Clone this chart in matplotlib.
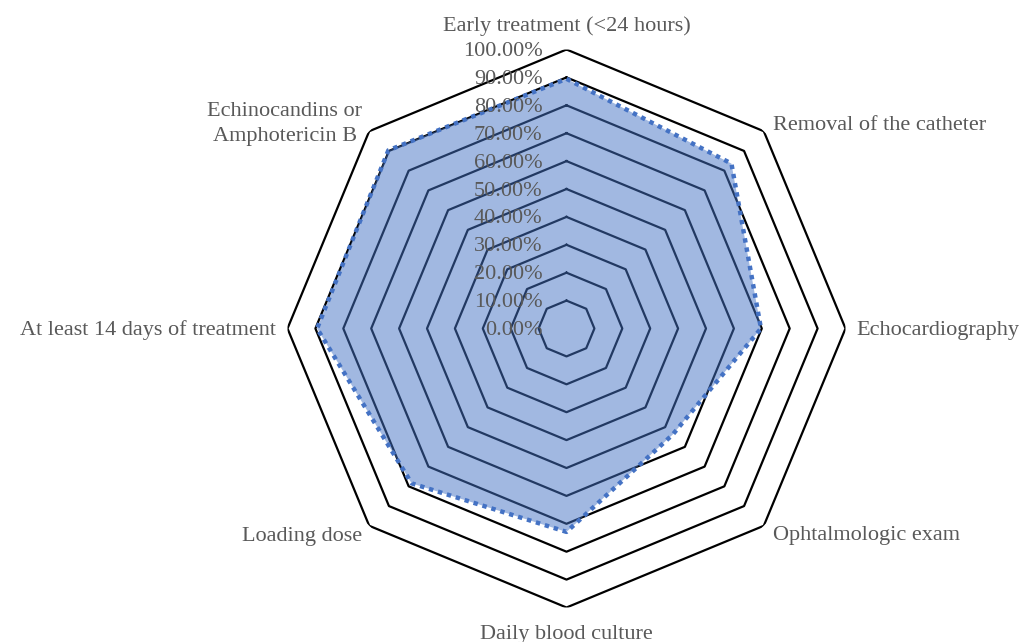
import matplotlib.pyplot as plt
import numpy as np

# categories, clockwise from the top
categories = ['Early treatment (<24 hours)', 'Removal of the catheter', 'Echocardiography',
              'Ophtalmologic exam', 'Daily blood culture', 'Loading dose',
              'At least 14 days of treatment', 'Echinocandins or\nAmphotericin B']
values = [0.895, 0.836, 0.697, 0.538, 0.729, 0.785, 0.894, 0.903]
levels = [0.1, 0.2, 0.3, 0.4, 0.5, 0.6, 0.7, 0.8, 0.9, 1.0]
tick_labels = ['0.00%', '10.00%', '20.00%', '30.00%', '40.00%', '50.00%',
               '60.00%', '70.00%', '80.00%', '90.00%', '100.00%']

plt.rcParams['font.family'] = ['Liberation Serif', 'DejaVu Serif']
txt = '#595959'
fs = 16

fig = plt.figure(figsize=(10.35, 6.42), dpi=100)
# centre of the chart at (566.5, 328.5) px, radius 279 px
ax = fig.add_axes([287.5 / 1035, 34.5 / 642, 558 / 1035, 558 / 642], projection='polar')
ax.set_theta_offset(np.pi / 2)
ax.set_theta_direction(-1)
ax.set_ylim(0, 1)
ax.grid(False)
ax.spines['polar'].set_visible(False)
ax.set_xticks([])
ax.set_yticks([])

n = len(categories)
angles = np.arange(n) * 2 * np.pi / n
closed = np.append(angles, angles[0])

# octagon grid
for lv in levels:
    ax.plot(closed, [lv] * (n + 1), color='black', lw=1.6, zorder=1)

# data polygon
vals = np.append(values, values[0])
ax.fill(closed, vals, color='#4472C4', alpha=0.5, lw=0, zorder=2)
ax.plot(closed, vals, color='#4472C4', lw=3.2, linestyle=(0, (1, 1.1)), zorder=3)

# radial tick labels along the top spoke
for i, t in enumerate(tick_labels):
    ax.annotate(t, xy=(0, i / 10), xytext=(-24, -2), textcoords='offset pixels',
                ha='right', va='center', fontsize=fs, color=txt, zorder=4,
                annotation_clip=False)

# category labels: (dx, dy) pixel offsets from the 100% vertex, alignment
label_pos = [((0, 23), 'center'), ((9, 6), 'left'), ((11, -2), 'left'),
             ((9, -10), 'left'), ((0, -27), 'center'), ((-7, -11), 'right'),
             ((-12, -2), 'right'), ((-7, 7), 'right')]
for ang, lab, (off, ha) in zip(angles, categories, label_pos):
    ax.annotate(lab, xy=(ang, 1.0), xytext=off, textcoords='offset pixels',
                ha=ha, va='center', fontsize=fs, color=txt, multialignment='center',
                linespacing=1.45, annotation_clip=False)

fig.savefig('out.png', dpi=100)
